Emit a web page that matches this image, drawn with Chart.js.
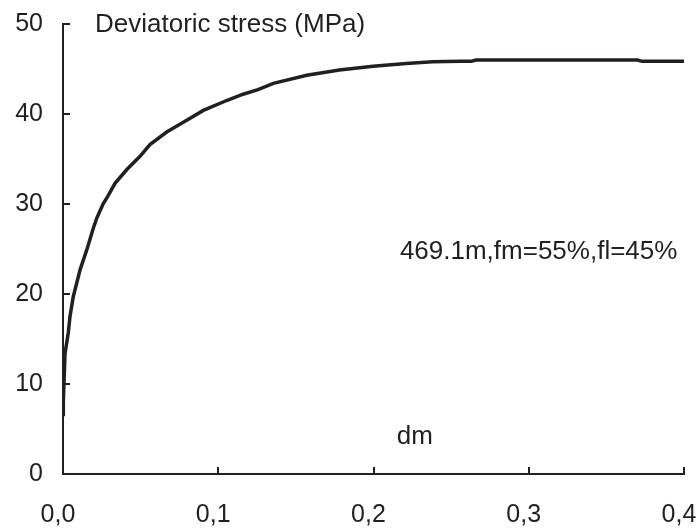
<!DOCTYPE html>
<html>
<head>
<meta charset="utf-8">
<script src="https://cdn.jsdelivr.net/npm/chart.js@4.4.1/dist/chart.umd.min.js"></script>
<style>
  html, body { margin: 0; padding: 0; background: #ffffff; }
  #wrap { width: 698px; height: 531px; }
</style>
</head>
<body>
<div id="wrap"><canvas id="c" width="698" height="531"></canvas></div>
<script>
// Strain dm (x) and deviatoric stress in MPa (y)
const strainValues = [0, 0.0002, 0.0013, 0.0034, 0.0045, 0.0066, 0.011, 0.0153, 0.0195, 0.0217, 0.0258, 0.029, 0.0335, 0.041, 0.0496, 0.056, 0.0668, 0.0797, 0.0904, 0.1054, 0.116, 0.1256, 0.1355, 0.157, 0.178, 0.1997, 0.221, 0.238, 0.256, 0.263, 0.266, 0.37, 0.373, 0.4];
const stressValues = [6.6, 8.0, 13.4, 15.7, 17.5, 19.7, 22.7, 24.9, 27.3, 28.4, 30.0, 30.9, 32.3, 33.8, 35.3, 36.6, 38.0, 39.3, 40.4, 41.5, 42.2, 42.7, 43.4, 44.3, 44.9, 45.3, 45.6, 45.8, 45.85, 45.85, 46.0, 46.0, 45.85, 45.85];
const xTickValues = [0, 0.1, 0.2, 0.3, 0.4];
const yTickValues = [0, 10, 20, 30, 40, 50];
const annotationTexts = ["Deviatoric stress (MPa)", "469.1m,fm=55%,fl=45%", "dm"];
const annotationX = [0.0206, 0.217, 0.215];
const annotationY = [49.9, 24.7, 4.1];

const INK = '#231f20';
const FONT = '"Liberation Sans", Arial, sans-serif';

const points = strainValues.map((x, i) => ({ x: x, y: stressValues[i] }));

const decorPlugin = {
  id: 'decor',
  afterDraw(chart) {
    const ctx = chart.ctx;
    const xs = chart.scales.x, ys = chart.scales.y;
    const area = chart.chartArea;
    ctx.save();
    ctx.strokeStyle = INK;
    ctx.lineWidth = 2;
    // inward tick marks
    xTickValues.forEach(v => {
      const px = Math.round(xs.getPixelForValue(v));
      ctx.beginPath();
      ctx.moveTo(px, area.bottom);
      ctx.lineTo(px, area.bottom - 7);
      ctx.stroke();
    });
    yTickValues.forEach(v => {
      const py = Math.round(ys.getPixelForValue(v));
      ctx.beginPath();
      ctx.moveTo(area.left, py);
      ctx.lineTo(area.left + 7, py);
      ctx.stroke();
    });
    // annotation texts
    ctx.fillStyle = INK;
    ctx.font = '26px ' + FONT;
    ctx.textAlign = 'left';
    ctx.textBaseline = 'middle';
    annotationTexts.forEach((t, i) => {
      ctx.fillText(t, xs.getPixelForValue(annotationX[i]), ys.getPixelForValue(annotationY[i]));
    });
    ctx.restore();
  }
};

new Chart(document.getElementById('c'), {
  type: 'scatter',
  data: {
    datasets: [{
      data: points,
      showLine: true,
      borderColor: INK,
      borderWidth: 3.5,
      pointRadius: 0,
      tension: 0,
      fill: false
    }]
  },
  options: {
    responsive: false,
    animation: false,
    devicePixelRatio: 1,
    layout: { padding: { top: 24, right: 14, left: 0, bottom: 0 } },
    plugins: { legend: { display: false }, tooltip: { enabled: false } },
    scales: {
      x: {
        type: 'linear',
        min: 0, max: 0.4,
        afterBuildTicks(scale) { scale.ticks = xTickValues.map(v => ({ value: v })); },
        afterFit(scale) { scale.height = 57; scale.paddingRight = 0; scale.paddingLeft = 0; },
        grid: { display: false, drawTicks: false },
        border: { display: true, color: INK, width: 2 },
        ticks: {
          color: INK,
          font: { family: FONT, size: 25 },
          padding: 26,
          labelOffset: -5,
          maxRotation: 0,
          callback: v => v.toFixed(1).replace('.', ',')
        }
      },
      y: {
        type: 'linear',
        min: 0, max: 50,
        afterBuildTicks(scale) { scale.ticks = yTickValues.map(v => ({ value: v })); },
        afterFit(scale) { scale.width = 63; scale.paddingTop = 0; scale.paddingBottom = 0; },
        grid: { display: false, drawTicks: false },
        border: { display: true, color: INK, width: 2 },
        ticks: {
          color: INK,
          font: { family: FONT, size: 25 },
          padding: 20,
          callback: v => String(v)
        }
      }
    }
  },
  plugins: [decorPlugin]
});
</script>
</body>
</html>
